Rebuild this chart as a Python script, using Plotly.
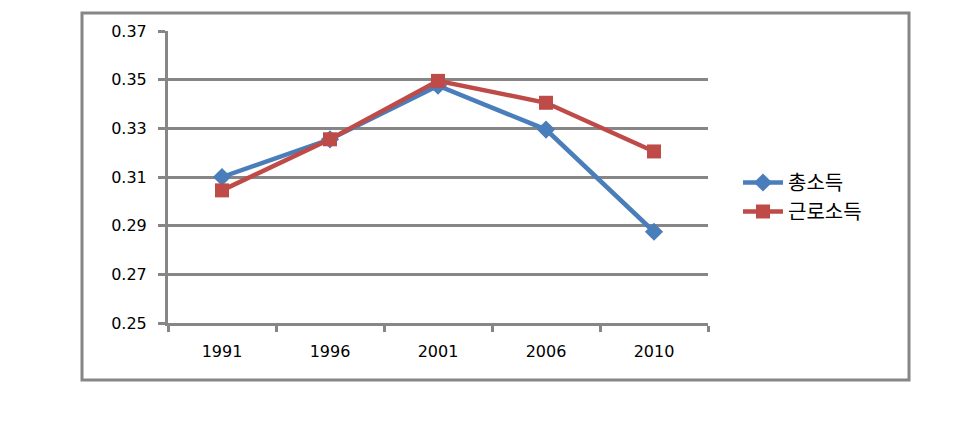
import plotly.graph_objects as go

years = ["1991", "1996", "2001", "2006", "2010"]
total_income = [0.310, 0.3255, 0.3475, 0.3295, 0.2875]
labor_income = [0.3045, 0.3255, 0.3495, 0.3405, 0.3205]
series_names = ["총소득", "근로소득"]
y_ticks = [0.25, 0.27, 0.29, 0.31, 0.33, 0.35, 0.37]

W, H = 963, 445
fig = go.Figure()
fig.add_trace(go.Scatter(x=years, y=total_income, name=series_names[0], mode="lines+markers",
                         line=dict(color="#4A7EBB", width=4.5),
                         marker=dict(symbol="diamond", size=14, color="#4A7EBB")))
fig.add_trace(go.Scatter(x=years, y=labor_income, name=series_names[1], mode="lines+markers",
                         line=dict(color="#BE4B48", width=4.5),
                         marker=dict(symbol="square", size=14, color="#BE4B48")))

font_main = "DejaVu Sans"
fig.update_layout(
    width=W, height=H,
    margin=dict(l=0, r=0, t=0, b=0, pad=0, autoexpand=False),
    paper_bgcolor="white", plot_bgcolor="white",
    xaxis=dict(domain=[168 / W, 708 / W], type="category", range=[-0.5, 4.5], automargin=False,
               tickson="boundaries", ticks="outside", ticklen=6, tickwidth=3, tickcolor="#868686",
               showline=True, linecolor="#868686", linewidth=3, showgrid=False,
               ticklabelstandoff=12,
               tickfont=dict(family=font_main, size=16, color="black"), zeroline=False),
    yaxis=dict(domain=[122 / H, 414 / H], range=[0.25, 0.37], tickvals=y_ticks, automargin=False,
               ticktext=[f"{v:.2f}" for v in y_ticks],
               ticks="outside", ticklen=7, tickwidth=3, tickcolor="#868686",
               showline=True, linecolor="#868686", linewidth=3,
               showgrid=True, gridcolor="#868686", gridwidth=2.5, zeroline=False,
               ticklabelstandoff=8,
               tickfont=dict(family=font_main, size=16, color="black")),
    legend=dict(x=738 / W, y=(H - 163) / H, xanchor="left", yanchor="top",
                font=dict(family="Noto Sans CJK KR", size=20, color="black"),
                bgcolor="rgba(0,0,0,0)", tracegroupgap=0, itemwidth=40),
    showlegend=True,
    shapes=[dict(type="rect", xref="paper", yref="paper",
                 x0=82 / W, x1=909 / W, y0=(H - 380) / H, y1=(H - 13) / H,
                 line=dict(color="#868686", width=3), fillcolor="rgba(0,0,0,0)", layer="below")],
)
fig.write_html("out.html")
